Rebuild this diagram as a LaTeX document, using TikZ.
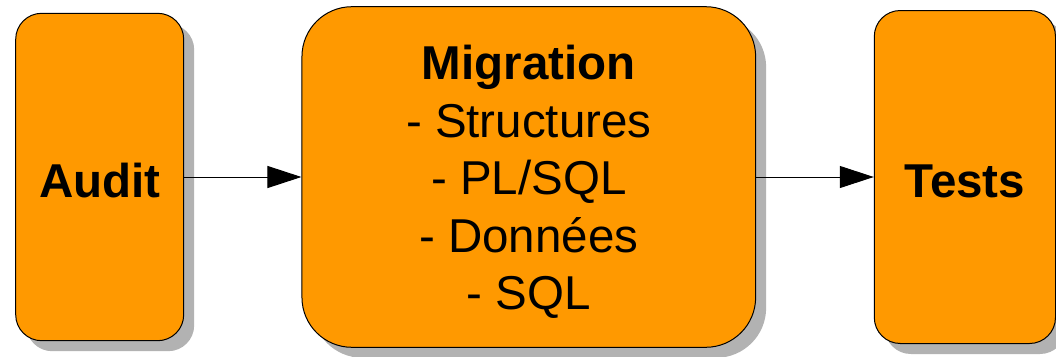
\documentclass[tikz,border=0pt]{standalone}
\usepackage{fontspec}
\setmainfont{Liberation Sans}
\usetikzlibrary{arrows.meta,shadows}
\definecolor{boxorange}{HTML}{FF9900}
\definecolor{shadowgray}{HTML}{B2B2B2}
\begin{document}
\begin{tikzpicture}[x=1pt,y=-1pt,
  stage/.style={draw=black, line width=1pt, fill=boxorange, rectangle,
    inner sep=0pt,
    drop shadow={shadow xshift=10.5pt, shadow yshift=-10.5pt, fill=shadowgray, opacity=1}},
  stagetext/.style={align=center, inner sep=0pt, font=\fontsize{47.5pt}{57.5pt}\selectfont},
  flow/.style={line width=1pt, -{Triangle[length=34pt,width=22pt]}}]
\useasboundingbox (0,0) rectangle (1056,356);
\node[stage, rounded corners=26pt, minimum width=168pt, minimum height=327.4pt,
  label={[stagetext, yshift=-3.5pt]center:\bfseries Audit}] (a) at (99.7,177) {};
\node[stage, rounded corners=50pt, minimum width=453.7pt, minimum height=340.6pt,
  label={[stagetext, yshift=-5pt]center:{\bfseries Migration}\\- Structures\\- PL/SQL\\- Données\\- SQL}] (m) at (528.8,177) {};
\node[stage, rounded corners=26pt, minimum width=181.2pt, minimum height=333pt,
  label={[stagetext, yshift=-4pt]center:\bfseries Tests}] (t) at (964.9,177) {};
\draw[flow] (a) -- (m);
\draw[flow] (m) -- (t);
\end{tikzpicture}
\end{document}
